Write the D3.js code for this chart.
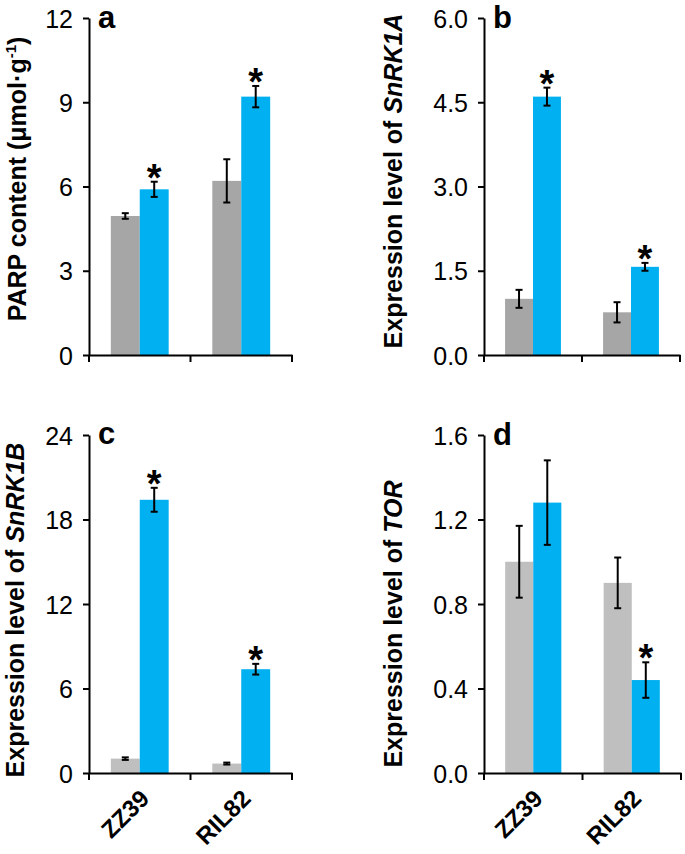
<!DOCTYPE html>
<html>
<head>
<meta charset="utf-8">
<script src="https://cdn.jsdelivr.net/npm/d3@7"></script>
<style>
  html, body { margin: 0; padding: 0; background: #fff; }
  svg { display: block; }
  text { font-family: "Liberation Sans", Arial, Helvetica, sans-serif; }
</style>
</head>
<body>
<svg id="chart" width="685" height="854"></svg>
<script>
// ---- Data ----
const categories = ["ZZ39", "RIL82"];

// Panel a: PARP content
const parpTicks = [0, 3, 6, 9, 12];
const parpControl = [4.95, 6.2];
const parpControlErr = [0.1, 0.77];
const parpTreated = [5.9, 9.2];
const parpTreatedErr = [0.27, 0.38];
const parpStar = [true, true];

// Panel b: SnRK1A
const snrk1aTicks = [0, 1.5, 3, 4.5, 6];
const snrk1aControl = [1.0, 0.76];
const snrk1aControlErr = [0.16, 0.18];
const snrk1aTreated = [4.6, 1.57];
const snrk1aTreatedErr = [0.16, 0.07];
const snrk1aStar = [true, true];

// Panel c: SnRK1B
const snrk1bTicks = [0, 6, 12, 18, 24];
const snrk1bControl = [1.02, 0.67];
const snrk1bControlErr = [0.09, 0.07];
const snrk1bTreated = [19.4, 7.37];
const snrk1bTreatedErr = [0.85, 0.38];
const snrk1bStar = [true, true];

// Panel d: TOR
const torTicks = [0, 0.4, 0.8, 1.2, 1.6];
const torControl = [1.0, 0.9];
const torControlErr = [0.17, 0.12];
const torTreated = [1.28, 0.44];
const torTreatedErr = [0.2, 0.084];
const torStar = [false, true];

// ---- Panel table built from the arrays ----
const panels = [
  { letter: "a", x0: 89, x1: 292, yt: 18, yb: 355, ticks: parpTicks, fmt: d3.format("d"),
    ctrl: parpControl, ctrlErr: parpControlErr, trt: parpTreated, trtErr: parpTreatedErr, star: parpStar,
    grey: "#a6a6a6", xLabels: false, titleX: 26, titleY: 179, title: "parp", letterY: 28 },
  { letter: "b", x0: 484, x1: 680, yt: 18, yb: 355, ticks: snrk1aTicks, fmt: d3.format(".1f"),
    ctrl: snrk1aControl, ctrlErr: snrk1aControlErr, trt: snrk1aTreated, trtErr: snrk1aTreatedErr, star: snrk1aStar,
    grey: "#a6a6a6", xLabels: false, titleX: 402, titleY: 181, title: "SnRK1A", letterY: 28 },
  { letter: "c", x0: 89, x1: 292, yt: 435, yb: 773, ticks: snrk1bTicks, fmt: d3.format("d"),
    ctrl: snrk1bControl, ctrlErr: snrk1bControlErr, trt: snrk1bTreated, trtErr: snrk1bTreatedErr, star: snrk1bStar,
    grey: "#bfbfbf", xLabels: true, titleX: 23.5, titleY: 610, title: "SnRK1B", letterY: 444 },
  { letter: "d", x0: 484, x1: 681, yt: 435, yb: 773, ticks: torTicks, fmt: d3.format(".1f"),
    ctrl: torControl, ctrlErr: torControlErr, trt: torTreated, trtErr: torTreatedErr, star: torStar,
    grey: "#bfbfbf", xLabels: true, titleX: 402, titleY: 624, title: "TOR", letterY: 445 }
];

const BLUE = "#00b0f0";
const svg = d3.select("#chart");

panels.forEach(p => {
  const g = svg.append("g");
  const x = d3.scaleBand().domain(categories).range([p.x0, p.x1]);
  const y = d3.scaleLinear().domain([0, p.ticks[p.ticks.length - 1]]).range([p.yb, p.yt]);
  const bw = x.bandwidth() * 0.285;
  const cx = c => x(c) + x.bandwidth() / 2;

  // bars
  const ctrlData = categories.map((c, i) => ({ c, v: p.ctrl[i], e: p.ctrlErr[i], side: -1, star: false }));
  const trtData = categories.map((c, i) => ({ c, v: p.trt[i], e: p.trtErr[i], side: 0, star: p.star[i] }));

  g.selectAll(".ctrl").data(ctrlData).enter().append("rect")
    .attr("x", d => cx(d.c) - bw).attr("width", bw)
    .attr("y", d => y(d.v)).attr("height", d => y(0) - y(d.v))
    .attr("fill", p.grey);
  g.selectAll(".trt").data(trtData).enter().append("rect")
    .attr("x", d => cx(d.c)).attr("width", bw)
    .attr("y", d => y(d.v)).attr("height", d => y(0) - y(d.v))
    .attr("fill", BLUE);

  // error bars
  const allData = ctrlData.concat(trtData);
  const ebX = d => cx(d.c) + (d.side === -1 ? -bw / 2 : bw / 2);
  const eb = g.selectAll(".eb").data(allData).enter().append("g");
  eb.append("line").attr("x1", ebX).attr("x2", ebX)
    .attr("y1", d => y(d.v - d.e)).attr("y2", d => y(d.v + d.e))
    .attr("stroke", "#000").attr("stroke-width", 2);
  [d => d.v - d.e, d => d.v + d.e].forEach(f => {
    eb.append("line").attr("x1", d => ebX(d) - 3.5).attr("x2", d => ebX(d) + 3.5)
      .attr("y1", d => y(f(d))).attr("y2", d => y(f(d)))
      .attr("stroke", "#000").attr("stroke-width", 2);
  });

  // asterisks
  g.selectAll(".star").data(trtData.filter(d => d.star)).enter().append("text")
    .attr("x", d => ebX(d)).attr("y", d => y(d.v + d.e) + 9)
    .attr("text-anchor", "middle").attr("font-size", 38).attr("font-weight", "bold")
    .text("*");

  // y axis
  const yAxis = d3.axisLeft(y).tickValues(p.ticks).tickFormat(p.fmt).tickSize(6).tickSizeOuter(0).tickPadding(10);
  const ya = g.append("g").attr("transform", `translate(${p.x0},0)`).call(yAxis);
  ya.select(".domain").attr("stroke", "#000").attr("stroke-width", 2);
  ya.selectAll(".tick line").attr("stroke", "#000").attr("stroke-width", 2);
  ya.selectAll(".tick text").attr("font-size", 25).attr("fill", "#000")
    .attr("font-family", "'Liberation Sans', Arial, sans-serif").attr("dy", "0.36em");

  // x axis (line + boundary ticks)
  const xa = g.append("g").attr("transform", `translate(0,${p.yb})`)
    .call(d3.axisBottom(x).tickSize(0).tickSizeOuter(0).tickFormat(""));
  xa.select(".domain").attr("stroke", "#000").attr("stroke-width", 2);
  const bounds = categories.map(c => x(c)).concat([x(categories[categories.length - 1]) + x.bandwidth()]);
  g.selectAll(".xt").data(bounds).enter().append("line")
    .attr("x1", d => d).attr("x2", d => d).attr("y1", p.yb).attr("y2", p.yb + 7)
    .attr("stroke", "#000").attr("stroke-width", 2);

  if (p.xLabels) {
    g.selectAll(".xl").data(categories).enter().append("text")
      .attr("transform", d => `translate(${cx(d) + 11},${p.yb + 27}) rotate(-45)`)
      .attr("text-anchor", "end").attr("font-size", 24).attr("font-weight", "bold")
      .text(d => d);
  }

  // panel letter
  g.append("text").attr("x", p.x0 + 9).attr("y", p.letterY)
    .attr("font-size", 31).attr("font-weight", "bold").text(p.letter);

  // y title
  const t = g.append("text")
    .attr("transform", `translate(${p.titleX},${p.titleY}) rotate(-90)`)
    .attr("text-anchor", "middle").attr("font-size", 25).attr("font-weight", "bold");
  if (p.title === "parp") {
    t.append("tspan").text("PARP content (μmol·g");
    t.append("tspan").attr("font-size", 15).attr("dy", -10).text("-1");
    t.append("tspan").attr("dy", 10).text(")");
  } else {
    t.append("tspan").text("Expression level of ");
    t.append("tspan").attr("font-style", "italic").text(p.title);
  }
});
</script>
</body>
</html>
